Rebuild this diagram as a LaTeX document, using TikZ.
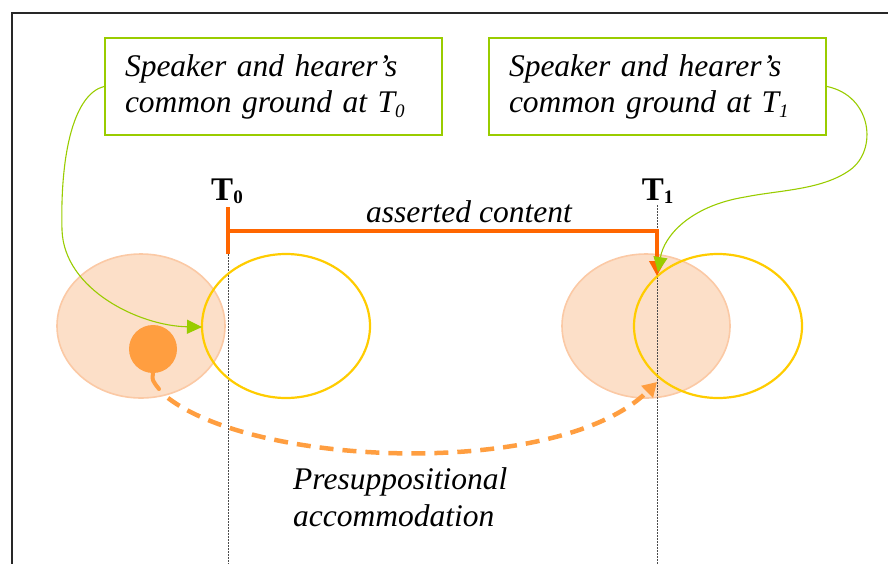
\documentclass[tikz,border=0pt]{standalone}
\usepackage{fontspec}
\setmainfont{Liberation Serif}
\usetikzlibrary{arrows.meta,shapes.geometric}
\definecolor{cggreen}{RGB}{153,204,0}
\definecolor{barorange}{RGB}{255,102,0}
\definecolor{cgyellow}{RGB}{255,204,0}
\definecolor{poolfill}{RGB}{252,223,200}
\definecolor{pooledge}{RGB}{251,201,165}
\definecolor{blobor}{RGB}{255,158,64}
\definecolor{framecol}{RGB}{40,40,40}
\newcommand{\isub}[1]{\raisebox{-5pt}{\fontsize{19}{19}\selectfont #1}}
\newcommand{\bsub}[1]{\raisebox{-3pt}{\fontsize{19}{19}\selectfont\bfseries #1}}
\begin{document}
\begin{tikzpicture}[x=1pt,y=-1pt,
  itxt/.style={font=\fontsize{31.5}{36}\selectfont\itshape, inner sep=0pt},
  cgbox/.style={draw=cggreen, line width=2.2pt, minimum width=337pt, minimum height=97pt,
     text width=297pt, align=left, inner xsep=20pt, inner ysep=0pt,
     font=\fontsize{31.5}{36}\selectfont\itshape},
  pool/.style={ellipse, fill=poolfill, draw=pooledge, line width=1.6pt,
     minimum width=168pt, minimum height=144pt, inner sep=0pt},
  cgell/.style={ellipse, draw=cgyellow, line width=2.2pt,
     minimum width=168pt, minimum height=144pt, inner sep=0pt},
  tlabel/.style={font=\fontsize{33}{33}\selectfont\bfseries, inner sep=0pt, anchor=base},
  greenconn/.style={draw=cggreen, line width=1.1pt, -{Triangle[length=15pt,width=14pt]}},
  barline/.style={draw=barorange, line width=3.6pt},
  timeline/.style={draw=black!70, line width=1pt, dash pattern=on 1.5pt off 1.5pt},
  accom/.style={draw=blobor, line width=4.5pt, dash pattern=on 14pt off 9pt,
     -{Triangle[length=14pt,width=16pt]}},
  blob/.style={circle, fill=blobor, minimum size=48pt, inner sep=0pt},
  framestyle/.style={draw=framecol, line width=1.6pt}
]
\useasboundingbox (0,0) rectangle (888,563);
% frame
\coordinate (fbl) at (12,565);
\coordinate (ftl) at (12,13);
\coordinate (ftr) at (890,13);
\draw[framestyle] (fbl) -- (ftl) -- (ftr);

% pools (common ground)
\node[pool] (p0) at (141,326) {};
\node[pool] (p1) at (646,326) {};

% time lines
\coordinate (tl0top) at (228,254);
\coordinate (tl0bot) at (228,565);
\coordinate (tl1top) at (657,205);
\coordinate (tl1bot) at (657,565);
\draw[timeline] (tl0top) -- (tl0bot);
\draw[timeline] (tl1top) -- (tl1bot);

% yellow ellipses
\node[cgell] (c0) at (286,326) {};
\node[cgell] (c1) at (718,326) {};

% blob
\node[blob] (blob) at (153,349) {};
\coordinate (stemend) at (159,389);
\draw[blobor, line width=4pt, line cap=round] (blob.south) .. controls (152,380) .. (stemend);

% boxes
\node[cgbox] (box0) at (273.5,86.5) {Speaker and hearer’s\\common ground at \textit{T}\isub{0}};
\node[cgbox] (box1) at (657.5,86.5) {Speaker and hearer’s\\common ground at \textit{T}\isub{1}};

% T labels
\node[tlabel] (t0) at (227,200) {T\bsub{0}};
\node[tlabel] (t1) at (657.5,200) {T\bsub{1}};

% asserted content bar
\coordinate (bar0top) at (228,207);
\coordinate (bar0bot) at (228,254);
\coordinate (barL) at (228,231);
\coordinate (barR) at (657,231);
\coordinate (bartip) at (657,276);
\draw[barline] (bar0top) -- (bar0bot);
\draw[barline, -{Triangle[length=15pt,width=15pt]}] (barL) -- (barR) -- (bartip);
\node[itxt, anchor=base] (asserted) at (469,222) {asserted content};

% green connectors
\coordinate (g0tip) at (202,327);
\draw[greenconn] (box0.west) .. controls (75,94) and (60,150) .. (62,230)
   .. controls (64,290) and (140,326) .. (g0tip);
\coordinate (g1tip) at (658,272);
\draw[greenconn] (box1.east) .. controls (872,96) and (878,150) .. (850,170)
   .. controls (822,190) and (780,190) .. (745,197)
   .. controls (690,206) and (664,236) .. (g1tip);

% accommodation
\coordinate (acstart) at (168,398);
\coordinate (acend) at (657,382);
\draw[accom] (acstart) .. controls (260,468) and (560,478) .. (acend);
\node[itxt, anchor=base west] (presup) at (293,489) {Presuppositional};
\node[itxt, anchor=base west] (presup2) at (293,526) {accommodation};
\end{tikzpicture}
\end{document}
